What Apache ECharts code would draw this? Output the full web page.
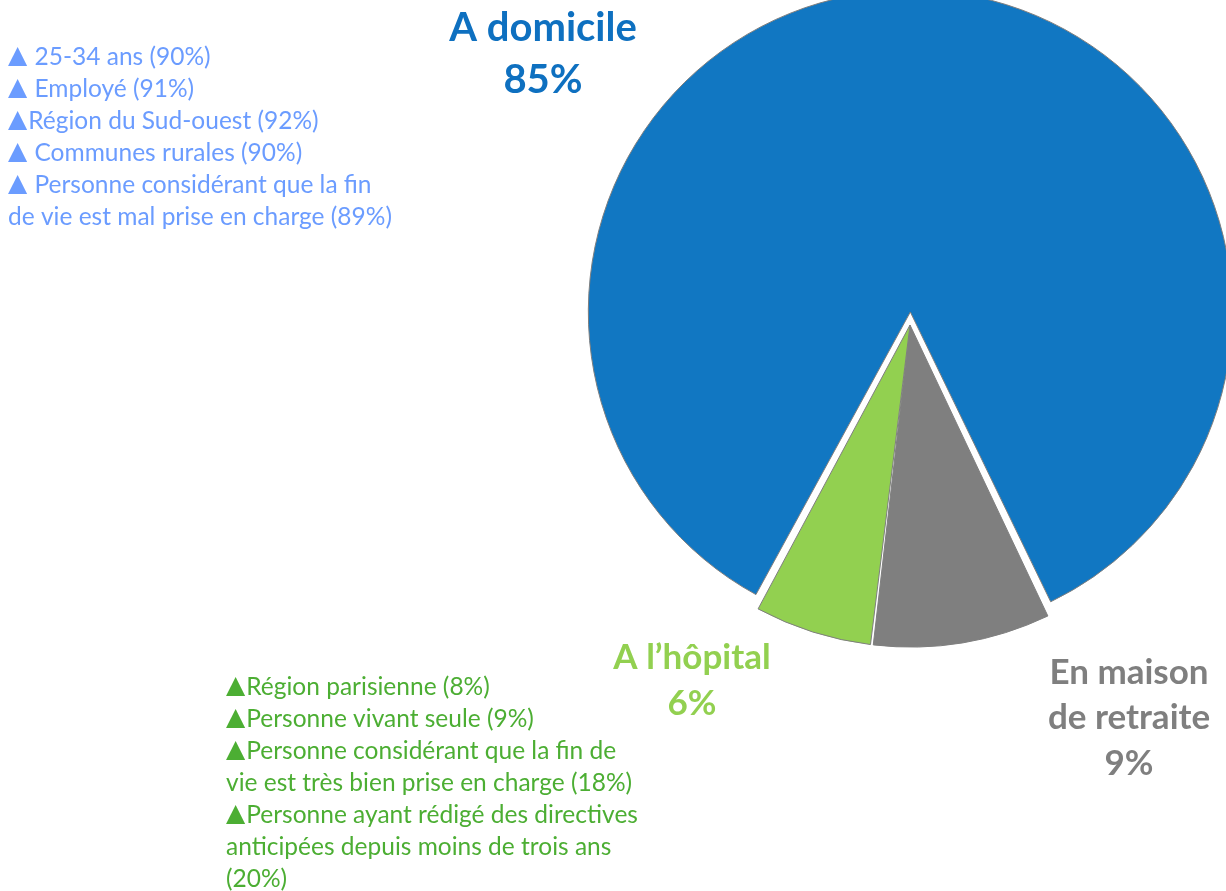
<!DOCTYPE html>
<html>
<head>
<meta charset="utf-8">
<script src="https://cdn.jsdelivr.net/npm/echarts@6/dist/echarts.min.js"></script>
<style>
  html, body { margin: 0; padding: 0; background: #ffffff; }
  #chart { width: 1226px; height: 891px; }
</style>
</head>
<body>
<div id="chart"></div>
<script>
// Lieu souhaité pour finir sa vie (parts en %)
const categories = ['En maison\nde retraite', 'A l\u2019hôpital', 'A domicile'];
const shares = [9, 6, 85];

// Sur-représentations par catégorie de répondants
const domicileNotes = [
  ' 25-34 ans (90%)',
  ' Employé (91%)',
  'Région du Sud-ouest (92%)',
  ' Communes rurales (90%)',
  ' Personne considérant que la fin\nde vie est mal prise en charge (89%)'
];
const hopitalNotes = [
  'Région parisienne (8%)',
  'Personne vivant seule (9%)',
  'Personne considérant que la fin de\nvie est très bien prise en charge (18%)',
  'Personne ayant rédigé des directives\nanticipées depuis moins de trois ans\n(20%)'
];

const sliceColors = ['#7f7f7f', '#92d050', '#1177c2'];
const labelColors = ['#7f7f7f', '#92d050', '#0e70c0'];
const labelFont = [
  { size: 35, lineHeight: 45.5 },
  { size: 35, lineHeight: 46 },
  { size: 40, lineHeight: 52 }
];
const labelAnchor = [[1129, 718], [692, 681], [543, 54]];

const FONT = 'Lato, "Open Sans", sans-serif';

function noteBlock(notes) {
  return notes.map(function (n) { return '{t|\u25B2}{x|' + n.split('\n').join('}\n{x|') + '}'; }).join('\n');
}

function noteText(notes, left, top, color) {
  return {
    type: 'text',
    left: left,
    top: top,
    silent: true,
    style: {
      text: noteBlock(notes),
      fill: color,
      fontFamily: FONT,
      fontSize: 24.5,
      lineHeight: 32,
      rich: {
        t: { fontSize: 25, fontFamily: '"DejaVu Sans"', lineHeight: 32, fill: color, padding: [0, 1, 2, 0] },
        x: { fontSize: 24.5, fontFamily: FONT, lineHeight: 32, fill: color }
      }
    }
  };
}

// Slice labels: name + share, taken from the same arrays as the slices
const sliceLabels = categories.map(function (name, i) {
  return {
    type: 'text',
    x: labelAnchor[i][0],
    y: labelAnchor[i][1],
    silent: true,
    style: {
      text: name + '\n' + shares[i] + '%',
      fill: labelColors[i],
      fontFamily: FONT,
      fontWeight: 'bold',
      fontSize: labelFont[i].size,
      lineHeight: labelFont[i].lineHeight,
      align: 'center',
      verticalAlign: 'middle'
    }
  };
});

const chart = echarts.init(document.getElementById('chart'), null, { renderer: 'canvas' });

chart.setOption({
  animation: false,
  backgroundColor: '#ffffff',
  series: [{
    type: 'pie',
    center: [910, 325],
    radius: 322,
    startAngle: 295.6,
    clockwise: true,
    padAngle: 0.5,
    selectedMode: 'multiple',
    selectedOffset: 13,
    silent: true,
    itemStyle: { borderColor: '#7f7f7f', borderWidth: 1 },
    label: { show: false },
    labelLine: { show: false },
    data: categories.map(function (name, i) {
      return {
        name: name,
        value: shares[i],
        selected: i === 2,
        itemStyle: { color: sliceColors[i] }
      };
    })
  }],
  graphic: [
    noteText(domicileNotes, 8, 41, '#6b9cff'),
    noteText(hopitalNotes, 226, 671, '#4cae33')
  ].concat(sliceLabels)
});
</script>
</body>
</html>
